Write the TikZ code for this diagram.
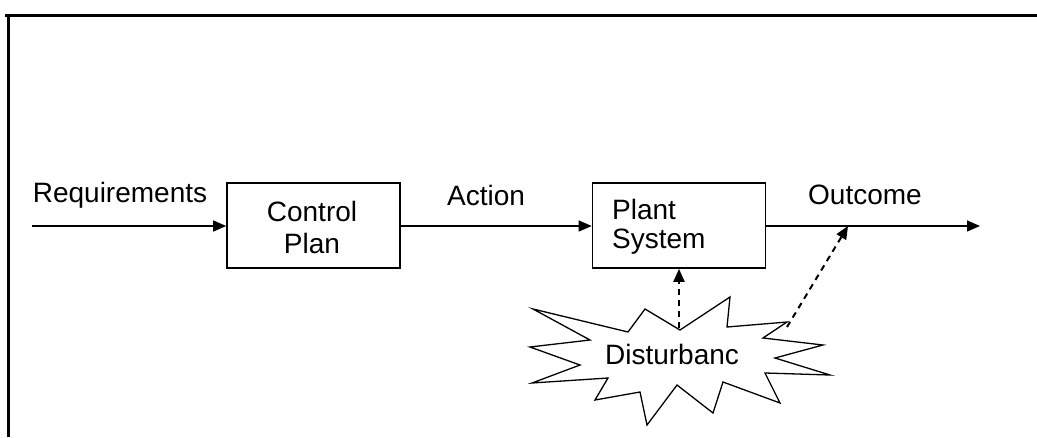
\documentclass[tikz,border=0pt]{standalone}
\usepackage{fontspec}
\setmainfont{Liberation Sans}
\usetikzlibrary{arrows.meta}
\begin{document}
\begin{tikzpicture}[x=1pt,y=-1pt,
  lbl/.style={font=\fontsize{28}{33}\selectfont, inner sep=0pt},
  blk/.style={draw, line width=1.6pt, minimum width=173pt, minimum height=85pt, inner sep=0pt},
  flow/.style={line width=1.3pt, -{Triangle[length=13pt,width=11pt]}},
  dist/.style={line width=2pt, dash pattern=on 6pt off 5pt, -{Triangle[length=13pt,width=11pt]}},
  burst/.style={draw, line width=1.3pt, line join=miter}]
\useasboundingbox (0,0) rectangle (1037,437);

% outer frame (top and left edges)
\draw[line width=3pt] (5,15) -- (1037,15);
\draw[line width=3pt] (8,15) -- (8,437);

% blocks
\node[blk] (ctrl) at (313.5,225.5) {};
\node[lbl] (ctrlA) at (312,211) {Control};
\node[lbl] (ctrlB) at (312,243) {Plan};

\node[blk] (plant) at (679,225.5) {};
\node[lbl, anchor=west] (plantA) at (612,209) {Plant};
\node[lbl, anchor=west] (plantB) at (612,242) {System};

% signal labels
\node[lbl] (req) at (120,195) {Requirements};
\node[lbl] (act) at (486,195) {Action};
\node[lbl] (out) at (865,195) {Outcome};

% signal path
\coordinate (in) at (32,226);
\coordinate (end) at (980,226);
\coordinate (hit) at (848,226);
\draw[flow] (in) -- (ctrl.west |- in);
\draw[flow] (ctrl.east |- in) -- (plant.west |- in);
\draw[flow] (plant.east |- in) -- (end);

% disturbance burst
\draw[burst] (533,309) -- (628,332) -- (645,309) -- (680,330) -- (730,297)
  -- (727,327) -- (787,322) -- (763,338) -- (823,345) -- (775,358)
  -- (830,375) -- (765,373) -- (780,403) -- (723,382) -- (713,413)
  -- (677,385) -- (647,425) -- (640,392) -- (595,400) -- (608,378)
  -- (532,383) -- (580,365) -- (530,347) -- (590,340) -- cycle;
\node[lbl] (dist) at (672,354) {Disturbanc};
\coordinate (dtop) at (679,328);
\coordinate (dright) at (787,327);

\draw[dist] (dtop) -- (plant.south);
\draw[dist] (dright) -- (hit);
\end{tikzpicture}
\end{document}
